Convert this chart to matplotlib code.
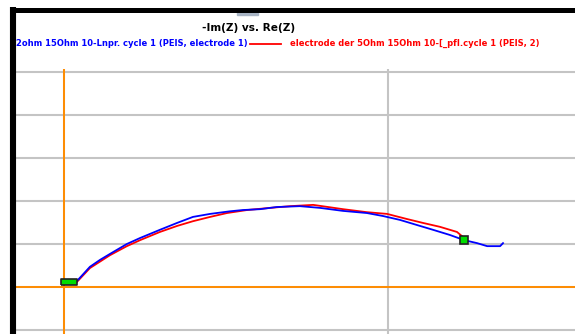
import matplotlib
matplotlib.use("Agg")
import matplotlib.pyplot as plt
from matplotlib.patches import Rectangle
from matplotlib.lines import Line2D

# ---- data ----
blue_x = [0.034, 0.080, 0.111, 0.142, 0.194, 0.235, 0.296, 0.349, 0.398, 0.451,
          0.512, 0.552, 0.605, 0.657, 0.728, 0.790, 0.861, 0.935, 0.985, 1.037,
          1.090, 1.139, 1.191, 1.235, 1.275, 1.306, 1.346, 1.355]
blue_y = [0.09, 0.47, 0.63, 0.77, 1.00, 1.14, 1.33, 1.49, 1.63, 1.70,
          1.76, 1.79, 1.81, 1.86, 1.88, 1.84, 1.77, 1.72, 1.65, 1.56,
          1.44, 1.33, 1.21, 1.09, 1.02, 0.95, 0.95, 1.02]
red_x = [0.034, 0.080, 0.142, 0.194, 0.235, 0.296, 0.349, 0.398, 0.451, 0.503,
         0.565, 0.636, 0.698, 0.769, 0.861, 0.935, 0.997, 1.059, 1.108, 1.160,
         1.213, 1.235]
red_y = [0.07, 0.44, 0.74, 0.95, 1.09, 1.28, 1.42, 1.53, 1.63, 1.72,
         1.79, 1.84, 1.88, 1.91, 1.81, 1.74, 1.70, 1.58, 1.49, 1.40,
         1.28, 1.14]
start_pt = (0.014, 0.12)
end_pt = (1.235, 1.09)
x_grid = [0, 1]
y_grid = [-1, 0, 1, 2, 3, 4, 5]
title = "-Im(Z) vs. Re(Z)"
blue_label = "2ohm 15Ohm 10-Lnpr. cycle 1 (PEIS, electrode 1)"
red_label = "electrode der 5Ohm 15Ohm 10-[_pfl.cycle 1 (PEIS, 2)"

W, H = 575, 334
fig = plt.figure(figsize=(W / 100, H / 100), dpi=100)
fig.patch.set_facecolor("white")

def fx(px):
    return px / W

def fy(py):
    return 1 - py / H

ax_left, ax_right, ax_top, ax_bot = 16, 575, 69, 334
ax = fig.add_axes([fx(ax_left), fy(ax_bot), fx(ax_right - ax_left), (ax_bot - ax_top) / H])
ax.set_xlim(-48 / 324, 511 / 324)
ax.set_ylim((287 - ax_bot) / 43, (287 - ax_top) / 43)
for s in ax.spines.values():
    s.set_visible(False)
ax.set_xticks(x_grid)
ax.set_yticks(y_grid)
ax.tick_params(length=0, labelleft=False, labelbottom=False)
ax.grid(True, color="#c4c4c4", linewidth=1.5)
ax.axhline(0, color="#ff8c00", linewidth=1.4, zorder=2)
ax.axvline(0, color="#ff8c00", linewidth=1.4, zorder=2)

ax.plot(red_x, red_y, color="#ff0000", linewidth=1.3, zorder=3)
ax.plot(blue_x, blue_y, color="#0000ff", linewidth=1.3, zorder=4)

rect_marker = [(-2.2, -1), (2.2, -1), (2.2, 1), (-2.2, 1), (-2.2, -1)]
ax.plot([start_pt[0]], [start_pt[1]], linestyle="none", marker=rect_marker,
        markersize=11, markerfacecolor="#00dd00", markeredgecolor="#222222",
        markeredgewidth=1.2, zorder=5)
ax.plot([end_pt[0]], [end_pt[1]], linestyle="none", marker="s",
        markersize=6, markerfacecolor="#00dd00", markeredgecolor="#222222",
        markeredgewidth=1.2, zorder=5)

# black frame (left and top)
fig.add_artist(Line2D([fx(13), fx(13)], [fy(7), 0], color="black", linewidth=4.4,
                      solid_capstyle="butt"))
fig.add_artist(Line2D([fx(10), 1], [fy(9.5), fy(9.5)], color="black", linewidth=3.6,
                      solid_capstyle="butt"))
# small grey mark at top
fig.add_artist(Rectangle((fx(237), fy(15)), fx(21), 3 / H, color="#a8b4c4"))

# title and legend
fig.text(fx(249), fy(28), title, ha="center", va="center", fontsize=7.6,
         fontweight="bold", color="black")
fig.text(fx(16), fy(43), blue_label, ha="left", va="center", fontsize=6.0,
         fontweight="bold", color="#0000ff")
fig.add_artist(Line2D([fx(250), fx(281)], [fy(44), fy(44)], color="#ff0000", linewidth=1.3))
fig.text(fx(290), fy(43), red_label, ha="left", va="center", fontsize=6.0,
         fontweight="bold", color="#ff0000")

fig.savefig("out.png", dpi=100, facecolor="white")
